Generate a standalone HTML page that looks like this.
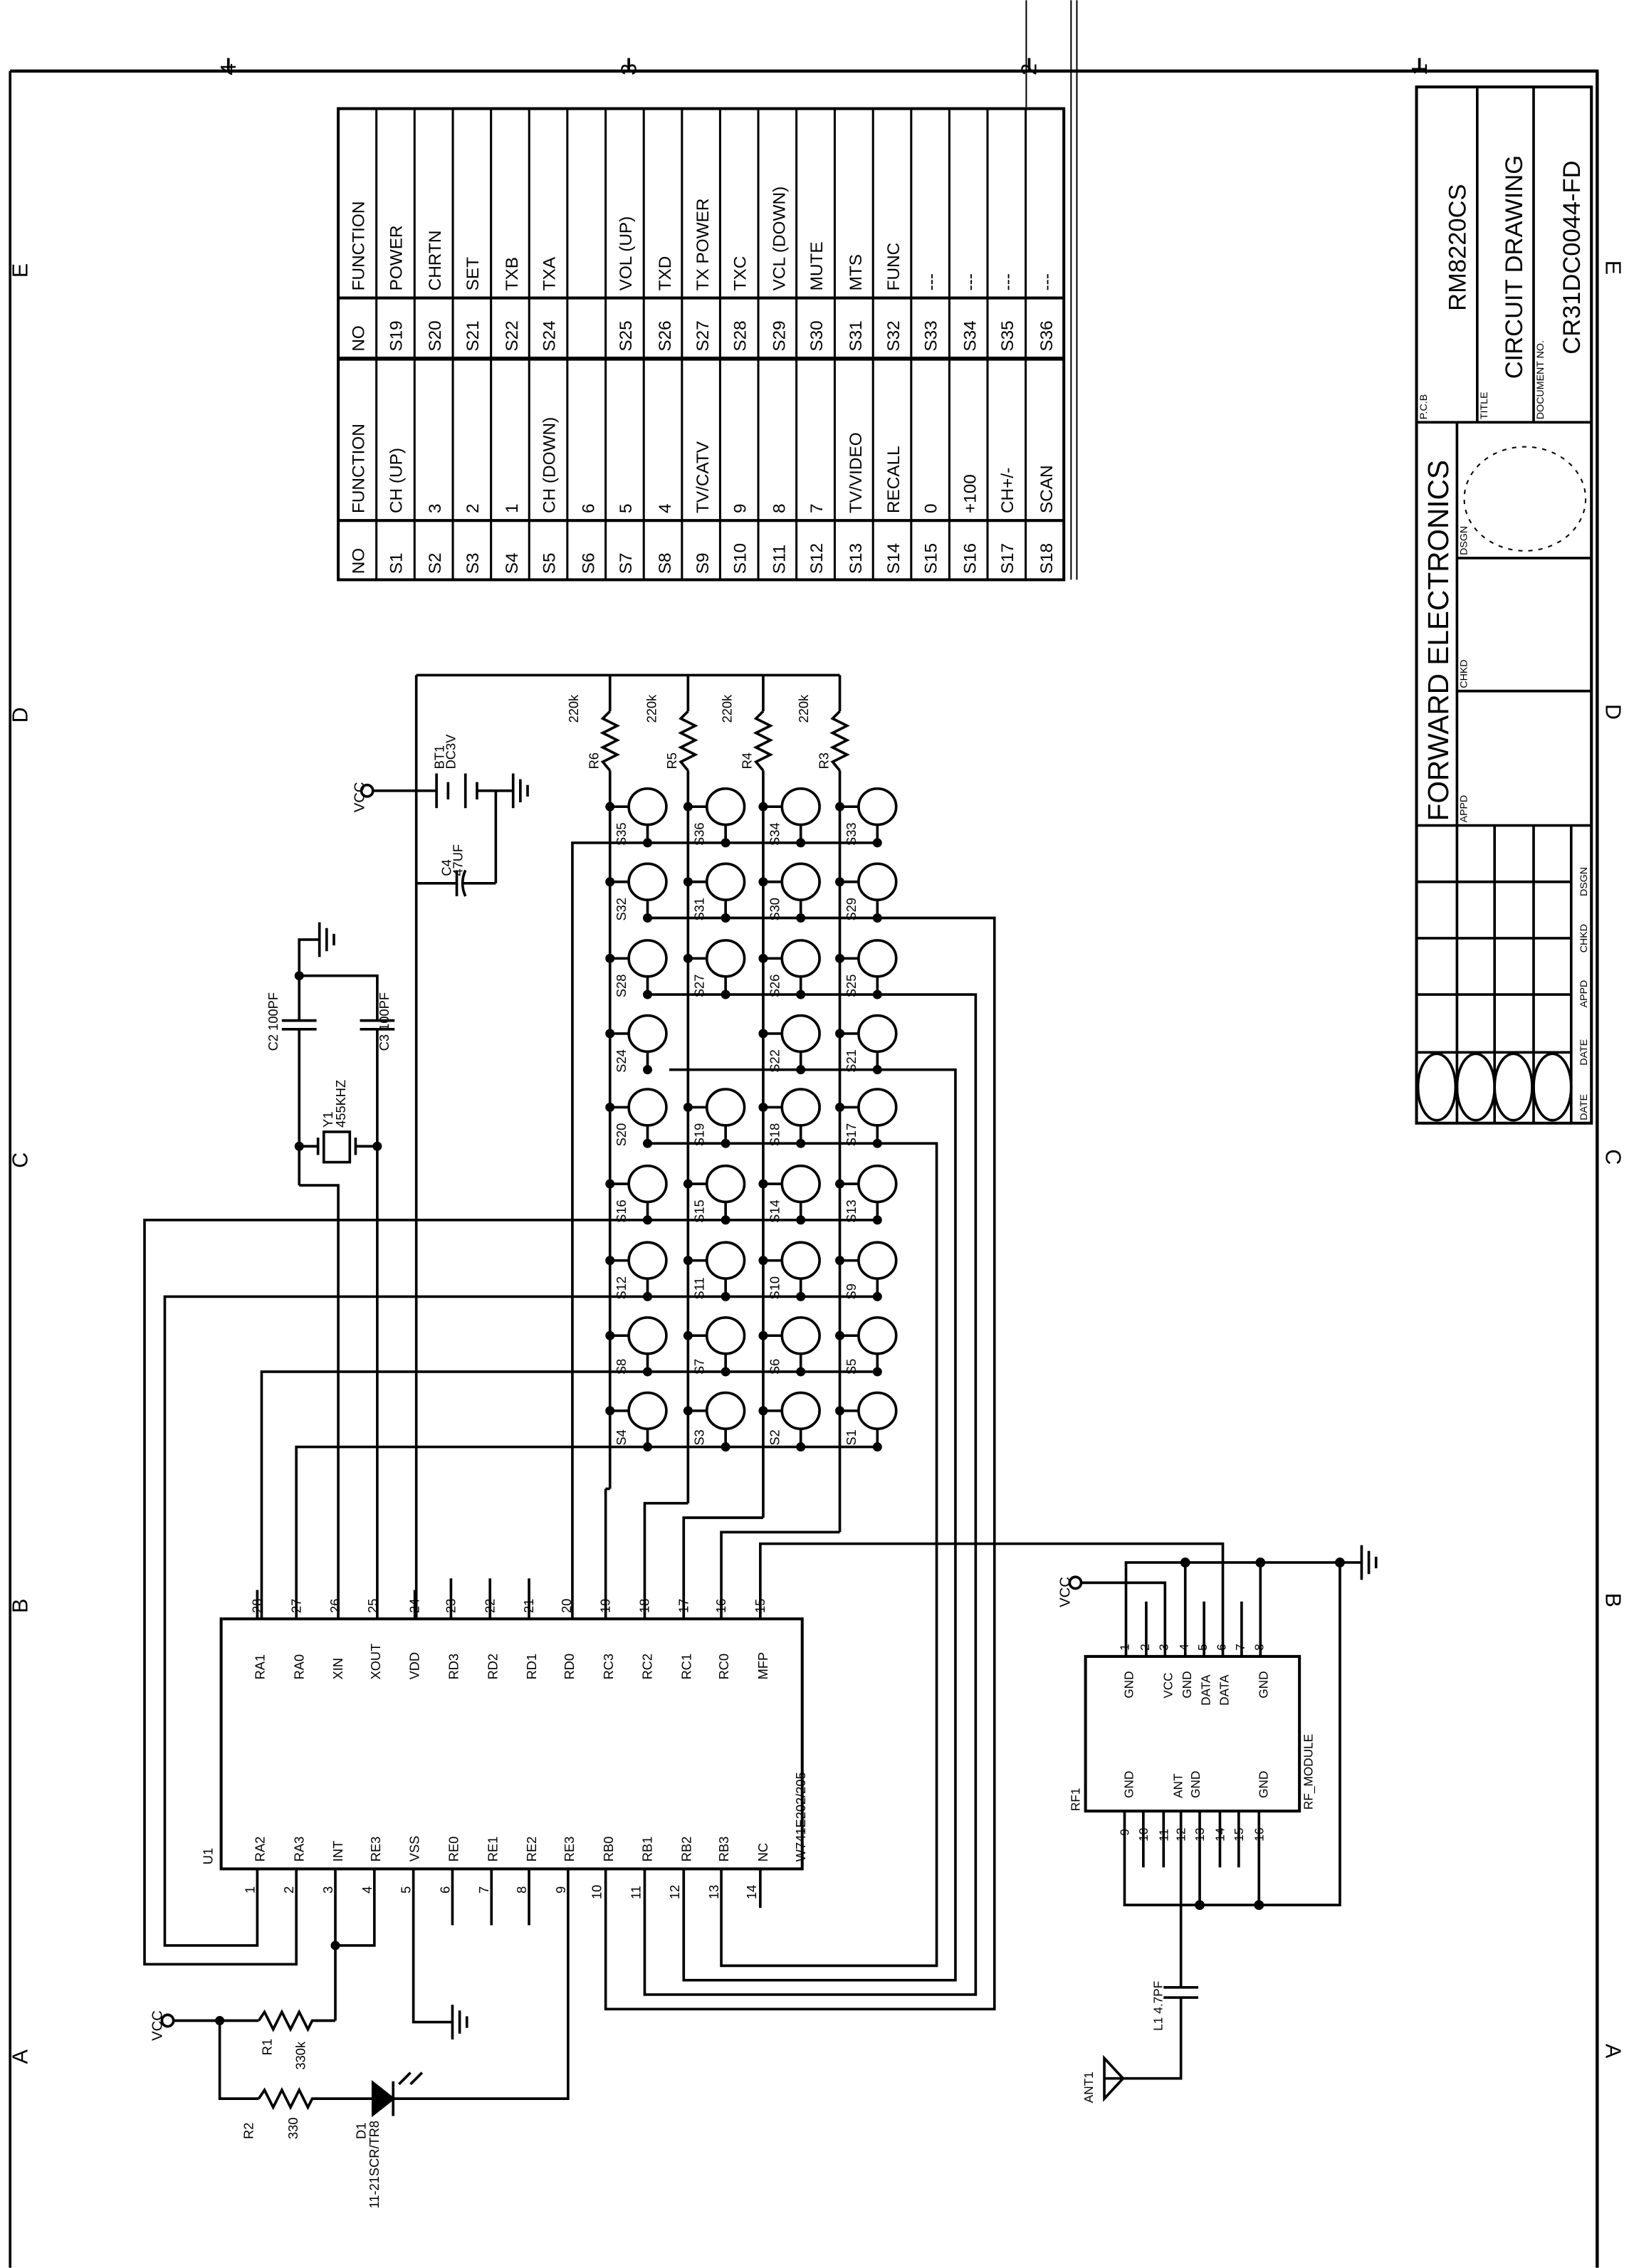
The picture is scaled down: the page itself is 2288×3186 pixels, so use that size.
<!DOCTYPE html>
<html><head><meta charset="utf-8"><style>
html,body{margin:0;padding:0;background:#fff;}
svg{display:block;}
text{font-family:"Liberation Sans",sans-serif;fill:#000;}
</style></head><body>
<svg width="2288" height="3186" viewBox="0 0 1127 1569" xmlns="http://www.w3.org/2000/svg">
<defs>
<g id="sw"><line x1="0" y1="0" x2="13" y2="0"/><ellipse cx="26" cy="0" rx="13" ry="12.5" fill="#fff"/><line x1="26" y1="12.5" x2="26" y2="25"/><circle r="2.3" fill="#000"/><circle cx="26" cy="25" r="2.3" fill="#000"/></g>
<g id="gnd"><line x1="0" y1="-12" x2="0" y2="12"/><line x1="5" y1="-8" x2="5" y2="8"/><line x1="10" y1="-4" x2="10" y2="4"/></g>
</defs>
<g stroke="#000" stroke-width="1.8" fill="none">
<!-- border -->
<line x1="7" y1="49" x2="1106" y2="49" stroke-width="2.2"/>
<line x1="7" y1="49" x2="7" y2="1569"/>
<line x1="1105" y1="49" x2="1105" y2="1569" stroke-width="2.2"/>
<line x1="710" y1="0" x2="710" y2="74" stroke-width="1"/>
<line x1="741" y1="0" x2="741" y2="401" stroke-width="1"/>
<line x1="745" y1="0" x2="745" y2="401" stroke-width="1"/>
<line x1="158" y1="40" x2="158" y2="49"/><line x1="435" y1="40" x2="435" y2="49"/><line x1="712" y1="40" x2="712" y2="49"/><line x1="982" y1="40" x2="982" y2="49"/>

<!-- table -->
<rect x="234" y="75" width="502" height="326" stroke-width="2"/>
<line x1="234" y1="206" x2="736" y2="206" stroke-width="2"/>
<line x1="234" y1="248" x2="736" y2="248" stroke-width="2.8"/>
<line x1="234" y1="360" x2="736" y2="360" stroke-width="2"/>
<g stroke-width="1.5">
<line x1="260.4" y1="75" x2="260.4" y2="401"/><line x1="286.8" y1="75" x2="286.8" y2="401"/><line x1="313.3" y1="75" x2="313.3" y2="401"/><line x1="339.7" y1="75" x2="339.7" y2="401"/><line x1="366.1" y1="75" x2="366.1" y2="401"/><line x1="392.5" y1="75" x2="392.5" y2="401"/><line x1="419" y1="75" x2="419" y2="401"/><line x1="445.4" y1="75" x2="445.4" y2="401"/><line x1="471.8" y1="75" x2="471.8" y2="401"/><line x1="498.2" y1="75" x2="498.2" y2="401"/><line x1="524.6" y1="75" x2="524.6" y2="401"/><line x1="551" y1="75" x2="551" y2="401"/><line x1="577.5" y1="75" x2="577.5" y2="401"/><line x1="604" y1="75" x2="604" y2="401"/><line x1="630.4" y1="75" x2="630.4" y2="401"/><line x1="656.8" y1="75" x2="656.8" y2="401"/><line x1="683.2" y1="75" x2="683.2" y2="401"/><line x1="709.6" y1="75" x2="709.6" y2="401"/>
</g>

<!-- title block -->
<rect x="980" y="60" width="121" height="717" stroke-width="2"/>
<line x1="1022" y1="60" x2="1022" y2="292"/>
<line x1="1061" y1="60" x2="1061" y2="292"/>
<line x1="980" y1="292" x2="1101" y2="292"/>
<line x1="1008" y1="292" x2="1008" y2="777"/>
<line x1="1008" y1="386" x2="1101" y2="386"/>
<line x1="1008" y1="478" x2="1101" y2="478"/>
<line x1="980" y1="571" x2="1101" y2="571"/>
<line x1="980" y1="610" x2="1087" y2="610"/><line x1="980" y1="649" x2="1087" y2="649"/><line x1="980" y1="688" x2="1087" y2="688"/><line x1="980" y1="728" x2="1087" y2="728"/>
<line x1="1034" y1="571" x2="1034" y2="777"/><line x1="1061" y1="571" x2="1061" y2="777"/><line x1="1087" y1="571" x2="1087" y2="777"/>
<ellipse cx="994" cy="752" rx="13" ry="23"/><ellipse cx="1021" cy="752" rx="13" ry="23"/><ellipse cx="1047" cy="752" rx="13" ry="23"/><ellipse cx="1074" cy="752" rx="13" ry="23"/>
<ellipse cx="1055" cy="345" rx="42" ry="36" stroke-dasharray="3 4" stroke-width="1"/>

<!-- top bus, VDD, battery -->
<line x1="288" y1="467" x2="581" y2="467"/>
<line x1="288" y1="467" x2="288" y2="1120"/>
<circle cx="254" cy="547" r="4" fill="#fff"/>
<line x1="258" y1="547" x2="302" y2="547"/>
<line x1="302" y1="535" x2="302" y2="559"/><line x1="310" y1="541" x2="310" y2="553"/><line x1="322" y1="535" x2="322" y2="559"/><line x1="330" y1="541" x2="330" y2="553"/>
<line x1="330" y1="547" x2="355" y2="547"/>
<use href="#gnd" x="355" y="547"/>
<line x1="343" y1="547" x2="343" y2="611"/>
<line x1="288" y1="611" x2="316" y2="611"/><line x1="316" y1="602" x2="316" y2="620"/><path d="M322 602 Q318 611 322 620"/><line x1="320" y1="611" x2="343" y2="611"/>

<!-- resistors on columns -->
<g>
<line x1="422" y1="467" x2="422" y2="492"/><polyline points="422,492 417,497 427,502 417,507 427,512 417,517 427,522 417,527 422,533"/>
<line x1="476" y1="467" x2="476" y2="492"/><polyline points="476,492 471,497 481,502 471,507 481,512 471,517 481,522 471,527 476,533"/>
<line x1="528" y1="467" x2="528" y2="492"/><polyline points="528,492 523,497 533,502 523,507 533,512 523,517 533,522 523,527 528,533"/>
<line x1="581" y1="467" x2="581" y2="492"/><polyline points="581,492 576,497 586,502 576,507 586,512 576,517 586,522 576,527 581,533"/>
</g>
<line x1="422" y1="533" x2="422" y2="1030"/><line x1="422" y1="1030" x2="419" y2="1030"/><line x1="419" y1="1030" x2="419" y2="1120"/>
<line x1="476" y1="533" x2="476" y2="1040"/><polyline points="476,1040 446,1040 446,1120"/>
<line x1="528" y1="533" x2="528" y2="1050"/><polyline points="528,1050 473,1050 473,1120"/>
<line x1="581" y1="533" x2="581" y2="1060"/><polyline points="581,1060 499,1060 499,1120"/>

<!-- switches -->
<use href="#sw" x="422" y="558"/><use href="#sw" x="476" y="558"/><use href="#sw" x="528" y="558"/><use href="#sw" x="581" y="558"/>
<use href="#sw" x="422" y="610"/><use href="#sw" x="476" y="610"/><use href="#sw" x="528" y="610"/><use href="#sw" x="581" y="610"/>
<use href="#sw" x="422" y="663"/><use href="#sw" x="476" y="663"/><use href="#sw" x="528" y="663"/><use href="#sw" x="581" y="663"/>
<use href="#sw" x="422" y="715"/><use href="#sw" x="528" y="715"/><use href="#sw" x="581" y="715"/>
<use href="#sw" x="422" y="766"/><use href="#sw" x="476" y="766"/><use href="#sw" x="528" y="766"/><use href="#sw" x="581" y="766"/>
<use href="#sw" x="422" y="819"/><use href="#sw" x="476" y="819"/><use href="#sw" x="528" y="819"/><use href="#sw" x="581" y="819"/>
<use href="#sw" x="422" y="872"/><use href="#sw" x="476" y="872"/><use href="#sw" x="528" y="872"/><use href="#sw" x="581" y="872"/>
<use href="#sw" x="422" y="924"/><use href="#sw" x="476" y="924"/><use href="#sw" x="528" y="924"/><use href="#sw" x="581" y="924"/>
<use href="#sw" x="422" y="976"/><use href="#sw" x="476" y="976"/><use href="#sw" x="528" y="976"/><use href="#sw" x="581" y="976"/>

<!-- row lines -->
<polyline points="608,583 396,583 396,1120"/>
<polyline points="448,635 688,635 688,1390 419,1390 419,1293"/>
<polyline points="448,688 675,688 675,1380 446,1380 446,1293"/>
<polyline points="463,740 661,740 661,1370 473,1370 473,1293"/>
<polyline points="448,791 648,791 648,1360 499,1360 499,1293"/>
<polyline points="608,844 100,844 100,1359 205,1359 205,1293"/>
<polyline points="608,897 114,897 114,1346 178,1346 178,1293"/>
<polyline points="608,949 181,949 181,1120"/>
<polyline points="608,1001 205,1001 205,1120"/>

<!-- crystal section -->
<polyline points="221,650 207,650 207,706"/>
<use href="#gnd" x="221" y="650"/>
<polyline points="207,675 261,675 261,706"/>
<circle cx="207" cy="675" r="2.3" fill="#000"/>
<line x1="195" y1="706" x2="219" y2="706"/><line x1="195" y1="712" x2="219" y2="712"/>
<line x1="249" y1="706" x2="273" y2="706"/><line x1="249" y1="712" x2="273" y2="712"/>
<line x1="207" y1="712" x2="207" y2="820"/>
<line x1="261" y1="712" x2="261" y2="1120"/>
<polyline points="207,820 234,820 234,1120"/>
<line x1="207" y1="793" x2="220" y2="793"/><line x1="220" y1="787" x2="220" y2="799"/>
<rect x="224" y="783" width="18" height="21"/>
<line x1="246" y1="787" x2="246" y2="799"/><line x1="246" y1="793" x2="261" y2="793"/>
<circle cx="207" cy="793" r="2.3" fill="#000"/><circle cx="261" cy="793" r="2.3" fill="#000"/>

<!-- chip U1 -->
<rect x="153" y="1120" width="402" height="173" stroke-width="2"/>
<line x1="178" y1="1100" x2="178" y2="1120"/><line x1="287" y1="1100" x2="287" y2="1120"/>
<line x1="312" y1="1092" x2="312" y2="1120"/><line x1="339" y1="1092" x2="339" y2="1120"/><line x1="366" y1="1092" x2="366" y2="1120"/>
<polyline points="526,1120 526,1068 846,1068 846,1146"/>
<line x1="313" y1="1293" x2="313" y2="1332"/><line x1="340" y1="1293" x2="340" y2="1332"/><line x1="366" y1="1293" x2="366" y2="1332"/><line x1="526" y1="1293" x2="526" y2="1320"/>
<!-- left bottom -->
<line x1="232" y1="1293" x2="232" y2="1398"/>
<polyline points="259,1293 259,1346 232,1346"/><circle cx="232" cy="1346" r="2.3" fill="#000"/>
<polyline points="286,1293 286,1399 313,1399"/><use href="#gnd" x="313" y="1399"/>
<circle cx="116" cy="1398" r="4" fill="#fff"/>
<line x1="120" y1="1398" x2="179" y2="1398"/><circle cx="152" cy="1398" r="2.3" fill="#000"/>
<polyline points="179,1398 183,1392 189,1404 195,1392 201,1404 207,1392 213,1404 216,1398 232,1398"/>
<polyline points="152,1398 152,1452 179,1452"/>
<polyline points="179,1452 183,1446 189,1458 195,1446 201,1458 207,1446 213,1458 216,1452 258,1452"/>
<polygon points="258,1441 258,1463 272,1452" fill="#000"/><line x1="272" y1="1440" x2="272" y2="1464"/>
<polyline points="272,1452 393,1452 393,1293"/>
<line x1="276" y1="1442" x2="284" y2="1434"/><line x1="284" y1="1442" x2="292" y2="1434"/>

<!-- RF module -->
<rect x="751" y="1146" width="148" height="107" stroke-width="2"/>
<polyline points="779,1146 779,1081 927,1081 927,1318 778,1318 778,1253"/>
<line x1="927" y1="1081" x2="942" y2="1081"/><use href="#gnd" x="942" y="1081"/>
<line x1="793" y1="1108" x2="793" y2="1146"/><line x1="833" y1="1108" x2="833" y2="1146"/><line x1="859" y1="1108" x2="859" y2="1146"/>
<line x1="820" y1="1081" x2="820" y2="1146"/><line x1="872" y1="1081" x2="872" y2="1146"/>
<polyline points="806,1146 806,1095 748,1095"/><circle cx="744" cy="1095" r="4" fill="#fff"/>
<circle cx="820" cy="1081" r="2.5" fill="#000"/><circle cx="872" cy="1081" r="2.5" fill="#000"/><circle cx="927" cy="1081" r="2.5" fill="#000"/>
<line x1="791" y1="1253" x2="791" y2="1292"/><line x1="805" y1="1253" x2="805" y2="1292"/><line x1="844" y1="1253" x2="844" y2="1292"/><line x1="857" y1="1253" x2="857" y2="1292"/>
<line x1="830" y1="1253" x2="830" y2="1318"/><line x1="871" y1="1253" x2="871" y2="1318"/>
<circle cx="830" cy="1318" r="2.5" fill="#000"/><circle cx="871" cy="1318" r="2.5" fill="#000"/>
<line x1="817" y1="1253" x2="817" y2="1375"/>
<line x1="805" y1="1375" x2="829" y2="1375"/><line x1="805" y1="1382" x2="829" y2="1382"/>
<polyline points="817,1382 817,1438 777,1438"/>
<polygon points="764,1424 764,1452 777,1438"/><line x1="764" y1="1438" x2="777" y2="1438"/>
</g>

<!-- text -->
<g font-size="15">
<text transform="translate(163,52) rotate(-90)">4</text>
<text transform="translate(440,52) rotate(-90)">3</text>
<text transform="translate(717,52) rotate(-90)">2</text>
<text transform="translate(987,52) rotate(-90)">1</text>
<text transform="translate(19,1428) rotate(-90)">A</text>
<text transform="translate(19,1116) rotate(-90)">B</text>
<text transform="translate(19,808) rotate(-90)">C</text>
<text transform="translate(19,500) rotate(-90)">D</text>
<text transform="translate(19,192) rotate(-90)">E</text>
<text transform="translate(1111,1414) rotate(90)">A</text>
<text transform="translate(1111,1102) rotate(90)">B</text>
<text transform="translate(1111,795) rotate(90)">C</text>
<text transform="translate(1111,487) rotate(90)">D</text>
<text transform="translate(1111,180) rotate(90)">E</text>
</g>

<g font-size="12">
<text transform="translate(252,397) rotate(-90)">NO</text><text transform="translate(252,355) rotate(-90)">FUNCTION</text><text transform="translate(252,243) rotate(-90)">NO</text><text transform="translate(252,201) rotate(-90)">FUNCTION</text>
<text transform="translate(278,397) rotate(-90)">S1</text><text transform="translate(278,355) rotate(-90)">CH (UP)</text><text transform="translate(278,243) rotate(-90)">S19</text><text transform="translate(278,201) rotate(-90)">POWER</text>
<text transform="translate(305,397) rotate(-90)">S2</text><text transform="translate(305,355) rotate(-90)">3</text><text transform="translate(305,243) rotate(-90)">S20</text><text transform="translate(305,201) rotate(-90)">CHRTN</text>
<text transform="translate(331,397) rotate(-90)">S3</text><text transform="translate(331,355) rotate(-90)">2</text><text transform="translate(331,243) rotate(-90)">S21</text><text transform="translate(331,201) rotate(-90)">SET</text>
<text transform="translate(358,397) rotate(-90)">S4</text><text transform="translate(358,355) rotate(-90)">1</text><text transform="translate(358,243) rotate(-90)">S22</text><text transform="translate(358,201) rotate(-90)">TXB</text>
<text transform="translate(384,397) rotate(-90)">S5</text><text transform="translate(384,355) rotate(-90)">CH (DOWN)</text><text transform="translate(384,243) rotate(-90)">S24</text><text transform="translate(384,201) rotate(-90)">TXA</text>
<text transform="translate(411,397) rotate(-90)">S6</text><text transform="translate(411,355) rotate(-90)">6</text>
<text transform="translate(437,397) rotate(-90)">S7</text><text transform="translate(437,355) rotate(-90)">5</text><text transform="translate(437,243) rotate(-90)">S25</text><text transform="translate(437,201) rotate(-90)">VOL (UP)</text>
<text transform="translate(464,397) rotate(-90)">S8</text><text transform="translate(464,355) rotate(-90)">4</text><text transform="translate(464,243) rotate(-90)">S26</text><text transform="translate(464,201) rotate(-90)">TXD</text>
<text transform="translate(490,397) rotate(-90)">S9</text><text transform="translate(490,355) rotate(-90)">TV/CATV</text><text transform="translate(490,243) rotate(-90)">S27</text><text transform="translate(490,201) rotate(-90)">TX POWER</text>
<text transform="translate(516,397) rotate(-90)">S10</text><text transform="translate(516,355) rotate(-90)">9</text><text transform="translate(516,243) rotate(-90)">S28</text><text transform="translate(516,201) rotate(-90)">TXC</text>
<text transform="translate(543,397) rotate(-90)">S11</text><text transform="translate(543,355) rotate(-90)">8</text><text transform="translate(543,243) rotate(-90)">S29</text><text transform="translate(543,201) rotate(-90)">VCL (DOWN)</text>
<text transform="translate(569,397) rotate(-90)">S12</text><text transform="translate(569,355) rotate(-90)">7</text><text transform="translate(569,243) rotate(-90)">S30</text><text transform="translate(569,201) rotate(-90)">MUTE</text>
<text transform="translate(596,397) rotate(-90)">S13</text><text transform="translate(596,355) rotate(-90)">TV/VIDEO</text><text transform="translate(596,243) rotate(-90)">S31</text><text transform="translate(596,201) rotate(-90)">MTS</text>
<text transform="translate(622,397) rotate(-90)">S14</text><text transform="translate(622,355) rotate(-90)">RECALL</text><text transform="translate(622,243) rotate(-90)">S32</text><text transform="translate(622,201) rotate(-90)">FUNC</text>
<text transform="translate(648,397) rotate(-90)">S15</text><text transform="translate(648,355) rotate(-90)">0</text><text transform="translate(648,243) rotate(-90)">S33</text><text transform="translate(648,201) rotate(-90)">---</text>
<text transform="translate(675,397) rotate(-90)">S16</text><text transform="translate(675,355) rotate(-90)">+100</text><text transform="translate(675,243) rotate(-90)">S34</text><text transform="translate(675,201) rotate(-90)">---</text>
<text transform="translate(701,397) rotate(-90)">S17</text><text transform="translate(701,355) rotate(-90)">CH+/-</text><text transform="translate(701,243) rotate(-90)">S35</text><text transform="translate(701,201) rotate(-90)">---</text>
<text transform="translate(728,397) rotate(-90)">S18</text><text transform="translate(728,355) rotate(-90)">SCAN</text><text transform="translate(728,243) rotate(-90)">S36</text><text transform="translate(728,201) rotate(-90)">---</text>
</g>

<!-- title block text -->
<text transform="translate(1002,568) rotate(-90)" font-size="20">FORWARD ELECTRONICS</text>
<text transform="translate(1014,215) rotate(-90)" font-size="17">RM8220CS</text>
<text transform="translate(1053,262) rotate(-90)" font-size="17">CIRCUIT DRAWING</text>
<text transform="translate(1093,245) rotate(-90)" font-size="17">CR31DC0044-FD</text>
<g font-size="7">
<text transform="translate(987,290) rotate(-90)">P.C.B</text>
<text transform="translate(1029,290) rotate(-90)">TITLE</text>
<text transform="translate(1068,290) rotate(-90)">DOCUMENT NO.</text>
<text transform="translate(1015,384) rotate(-90)">DSGN</text>
<text transform="translate(1015,476) rotate(-90)">CHKD</text>
<text transform="translate(1015,569) rotate(-90)">APPD</text>
<text transform="translate(1098,775) rotate(-90)">DATE</text>
<text transform="translate(1098,737) rotate(-90)">DATE</text>
<text transform="translate(1098,697) rotate(-90)">APPD</text>
<text transform="translate(1098,659) rotate(-90)">CHKD</text>
<text transform="translate(1098,620) rotate(-90)">DSGN</text>
</g>

<!-- switch labels -->
<g font-size="9">
<text transform="translate(433,585) rotate(-90)">S35</text><text transform="translate(487,585) rotate(-90)">S36</text><text transform="translate(539,585) rotate(-90)">S34</text><text transform="translate(592,585) rotate(-90)">S33</text>
<text transform="translate(433,637) rotate(-90)">S32</text><text transform="translate(487,637) rotate(-90)">S31</text><text transform="translate(539,637) rotate(-90)">S30</text><text transform="translate(592,637) rotate(-90)">S29</text>
<text transform="translate(433,690) rotate(-90)">S28</text><text transform="translate(487,690) rotate(-90)">S27</text><text transform="translate(539,690) rotate(-90)">S26</text><text transform="translate(592,690) rotate(-90)">S25</text>
<text transform="translate(433,742) rotate(-90)">S24</text><text transform="translate(539,742) rotate(-90)">S22</text><text transform="translate(592,742) rotate(-90)">S21</text>
<text transform="translate(433,793) rotate(-90)">S20</text><text transform="translate(487,793) rotate(-90)">S19</text><text transform="translate(539,793) rotate(-90)">S18</text><text transform="translate(592,793) rotate(-90)">S17</text>
<text transform="translate(433,846) rotate(-90)">S16</text><text transform="translate(487,846) rotate(-90)">S15</text><text transform="translate(539,846) rotate(-90)">S14</text><text transform="translate(592,846) rotate(-90)">S13</text>
<text transform="translate(433,899) rotate(-90)">S12</text><text transform="translate(487,899) rotate(-90)">S11</text><text transform="translate(539,899) rotate(-90)">S10</text><text transform="translate(592,899) rotate(-90)">S9</text>
<text transform="translate(433,951) rotate(-90)">S8</text><text transform="translate(487,951) rotate(-90)">S7</text><text transform="translate(539,951) rotate(-90)">S6</text><text transform="translate(592,951) rotate(-90)">S5</text>
<text transform="translate(433,1000) rotate(-90)">S4</text><text transform="translate(487,1000) rotate(-90)">S3</text><text transform="translate(539,1000) rotate(-90)">S2</text><text transform="translate(592,1000) rotate(-90)">S1</text>
<text transform="translate(414,532) rotate(-90)">R6</text><text transform="translate(468,532) rotate(-90)">R5</text><text transform="translate(520,532) rotate(-90)">R4</text><text transform="translate(573,532) rotate(-90)">R3</text>
<text transform="translate(400,500) rotate(-90)">220k</text><text transform="translate(454,500) rotate(-90)">220k</text><text transform="translate(506,500) rotate(-90)">220k</text><text transform="translate(559,500) rotate(-90)">220k</text>
<text transform="translate(252,562) rotate(-90)" font-size="10">VCC</text>
<text transform="translate(307,532) rotate(-90)">BT1</text><text transform="translate(315,532) rotate(-90)">DC3V</text>
<text transform="translate(312,606) rotate(-90)">C4</text><text transform="translate(320,606) rotate(-90)">47UF</text>
<text transform="translate(192,727) rotate(-90)">C2  100PF</text>
<text transform="translate(269,727) rotate(-90)">C3  100PF</text>
<text transform="translate(230,780) rotate(-90)">Y1</text><text transform="translate(239,780) rotate(-90)">455KHZ</text>
</g>

<!-- chip pin text -->
<g font-size="9">
<text transform="translate(147,1290) rotate(-90)">U1</text>
<text transform="translate(181,1116) rotate(-90)">28</text><text transform="translate(208,1116) rotate(-90)">27</text><text transform="translate(235,1116) rotate(-90)">26</text><text transform="translate(261,1116) rotate(-90)">25</text><text transform="translate(290,1116) rotate(-90)">24</text><text transform="translate(315,1116) rotate(-90)">23</text><text transform="translate(342,1116) rotate(-90)">22</text><text transform="translate(369,1116) rotate(-90)">21</text><text transform="translate(395,1116) rotate(-90)">20</text><text transform="translate(422,1116) rotate(-90)">19</text><text transform="translate(449,1116) rotate(-90)">18</text><text transform="translate(476,1116) rotate(-90)">17</text><text transform="translate(502,1116) rotate(-90)">16</text><text transform="translate(529,1116) rotate(-90)">15</text>
<text transform="translate(183,1162) rotate(-90)">RA1</text><text transform="translate(210,1162) rotate(-90)">RA0</text><text transform="translate(237,1162) rotate(-90)">XIN</text><text transform="translate(263,1162) rotate(-90)">XOUT</text><text transform="translate(290,1162) rotate(-90)">VDD</text><text transform="translate(317,1162) rotate(-90)">RD3</text><text transform="translate(344,1162) rotate(-90)">RD2</text><text transform="translate(371,1162) rotate(-90)">RD1</text><text transform="translate(397,1162) rotate(-90)">RD0</text><text transform="translate(424,1162) rotate(-90)">RC3</text><text transform="translate(451,1162) rotate(-90)">RC2</text><text transform="translate(478,1162) rotate(-90)">RC1</text><text transform="translate(504,1162) rotate(-90)">RC0</text><text transform="translate(531,1162) rotate(-90)">MFP</text>
<text transform="translate(183,1288) rotate(-90)">RA2</text><text transform="translate(210,1288) rotate(-90)">RA3</text><text transform="translate(237,1288) rotate(-90)">INT</text><text transform="translate(263,1288) rotate(-90)">RE3</text><text transform="translate(290,1288) rotate(-90)">VSS</text><text transform="translate(317,1288) rotate(-90)">RE0</text><text transform="translate(344,1288) rotate(-90)">RE1</text><text transform="translate(371,1288) rotate(-90)">RE2</text><text transform="translate(397,1288) rotate(-90)">RE3</text><text transform="translate(424,1288) rotate(-90)">RB0</text><text transform="translate(451,1288) rotate(-90)">RB1</text><text transform="translate(478,1288) rotate(-90)">RB2</text><text transform="translate(504,1288) rotate(-90)">RB3</text><text transform="translate(531,1288) rotate(-90)">NC</text>
<text transform="translate(557,1288) rotate(-90)">W741E202/205</text>
<text transform="translate(176,1310) rotate(-90)">1</text><text transform="translate(203,1310) rotate(-90)">2</text><text transform="translate(230,1310) rotate(-90)">3</text><text transform="translate(257,1310) rotate(-90)">4</text><text transform="translate(284,1310) rotate(-90)">5</text><text transform="translate(311,1310) rotate(-90)">6</text><text transform="translate(338,1310) rotate(-90)">7</text><text transform="translate(364,1310) rotate(-90)">8</text><text transform="translate(391,1310) rotate(-90)">9</text><text transform="translate(416,1314) rotate(-90)">10</text><text transform="translate(443,1314) rotate(-90)">11</text><text transform="translate(470,1314) rotate(-90)">12</text><text transform="translate(497,1314) rotate(-90)">13</text><text transform="translate(523,1314) rotate(-90)">14</text>
<text transform="translate(112,1412) rotate(-90)" font-size="10">VCC</text>
<text transform="translate(188,1422) rotate(-90)">R1</text><text transform="translate(211,1432) rotate(-90)">330k</text>
<text transform="translate(175,1480) rotate(-90)">R2</text><text transform="translate(206,1480) rotate(-90)">330</text>
<text transform="translate(253,1480) rotate(-90)">D1</text><text transform="translate(262,1528) rotate(-90)">11-21SCR/TR8</text>
</g>

<!-- RF text -->
<g font-size="8.5">
<text transform="translate(740,1112) rotate(-90)" font-size="10">VCC</text>
<text transform="translate(781,1142) rotate(-90)">1</text><text transform="translate(795,1142) rotate(-90)">2</text><text transform="translate(808,1142) rotate(-90)">3</text><text transform="translate(822,1142) rotate(-90)">4</text><text transform="translate(835,1142) rotate(-90)">5</text><text transform="translate(848,1142) rotate(-90)">6</text><text transform="translate(861,1142) rotate(-90)">7</text><text transform="translate(874,1142) rotate(-90)">8</text>
<text transform="translate(784,1175) rotate(-90)">GND</text><text transform="translate(811,1175) rotate(-90)">VCC</text><text transform="translate(824,1175) rotate(-90)">GND</text><text transform="translate(837,1180) rotate(-90)">DATA</text><text transform="translate(850,1180) rotate(-90)">DATA</text><text transform="translate(877,1175) rotate(-90)">GND</text>
<text transform="translate(784,1244) rotate(-90)">GND</text><text transform="translate(818,1244) rotate(-90)">ANT</text><text transform="translate(830,1244) rotate(-90)">GND</text><text transform="translate(877,1244) rotate(-90)">GND</text>
<text transform="translate(747,1253) rotate(-90)">RF1</text>
<text transform="translate(908,1252) rotate(-90)">RF_MODULE</text>
<text transform="translate(781,1270) rotate(-90)">9</text><text transform="translate(794,1274) rotate(-90)">10</text><text transform="translate(808,1274) rotate(-90)">11</text><text transform="translate(820,1274) rotate(-90)">12</text><text transform="translate(833,1274) rotate(-90)">13</text><text transform="translate(847,1274) rotate(-90)">14</text><text transform="translate(860,1274) rotate(-90)">15</text><text transform="translate(874,1274) rotate(-90)">16</text>
<text transform="translate(804,1405) rotate(-90)">L1  4.7PF</text>
<text transform="translate(756,1455) rotate(-90)">ANT1</text>
</g>
</svg>
</body></html>
